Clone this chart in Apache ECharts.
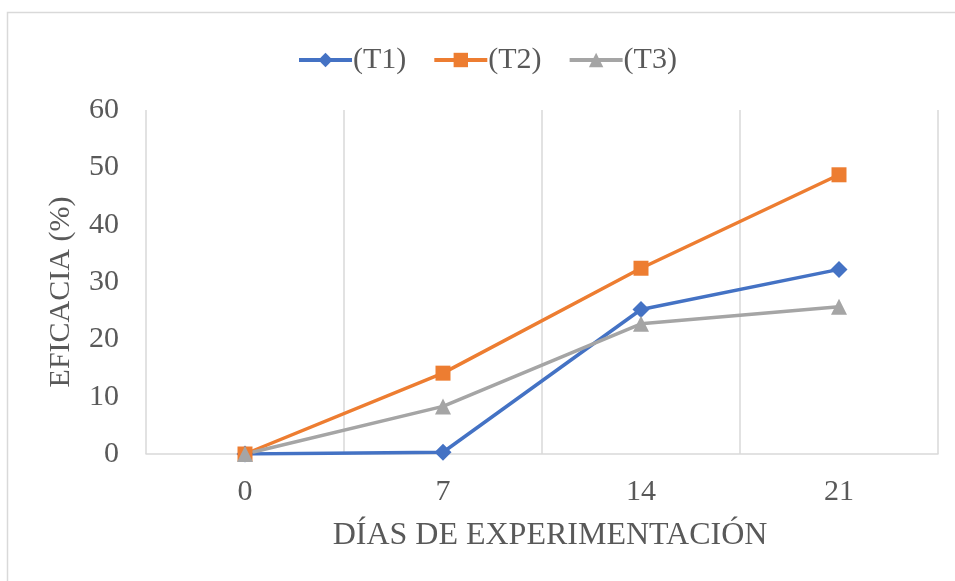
<!DOCTYPE html>
<html>
<head>
<meta charset="utf-8">
<script src="https://cdn.jsdelivr.net/npm/echarts@6/dist/echarts.min.js"></script>
<style>
  html, body { margin: 0; padding: 0; background: #fff; }
  #main { width: 955px; height: 581px; }
</style>
</head>
<body>
<div id="main"></div>
<script>
var days = ['0', '7', '14', '21'];
var t1 = [0, 0.3, 25.2, 32.2];
var t2 = [0, 14.1, 32.4, 48.7];
var t3 = [0, 8.3, 22.7, 25.7];

var myChart = echarts.init(document.getElementById('main'));

var fontFam = '"Liberation Serif", "Times New Roman", serif';
var txtColor = '#595959';

function mkSeries(name, data, color, symbol, size) {
    return {
        name: name,
        type: 'line',
        data: data,
        symbol: symbol,
        symbolSize: size,
        lineStyle: { color: color, width: 3.5 },
        itemStyle: { color: color },
        emphasis: { disabled: true }
    };
}

var option = {
    animation: false,
    textStyle: { fontFamily: fontFam },
    graphic: [{
        type: 'rect',
        shape: { x: 7.5, y: 12.5, width: 1000, height: 1000 },
        style: { fill: 'none', stroke: '#d9d9d9', lineWidth: 1.5 },
        silent: true
    }],
    legend: {
        top: 45,
        left: 297,
        padding: 0,
        itemWidth: 53,
        itemHeight: 18,
        itemGap: 26,
        lineStyle: { width: 4 },
        textStyle: { fontFamily: fontFam, fontSize: 30, color: txtColor, padding: [0, 0, 0, -4] },
        data: ['(T1)', '(T2)', '(T3)']
    },
    grid: {
        left: 146,
        top: 110,
        width: 792,
        height: 344
    },
    xAxis: {
        type: 'category',
        data: days,
        boundaryGap: true,
        name: 'DÍAS DE EXPERIMENTACIÓN',
        nameLocation: 'middle',
        nameGap: 66,
        nameTextStyle: { fontFamily: fontFam, fontSize: 32, color: txtColor, padding: [0, 0, 0, 16] },
        axisLine: { show: true, lineStyle: { color: '#d9d9d9', width: 1.5 } },
        axisTick: { show: false },
        axisLabel: { fontFamily: fontFam, fontSize: 30, color: txtColor, margin: 23 },
        splitLine: { show: true, lineStyle: { color: '#d9d9d9', width: 1.5 } }
    },
    yAxis: {
        type: 'value',
        min: 0,
        max: 60,
        interval: 10,
        name: 'EFICACIA (%)',
        nameLocation: 'middle',
        nameGap: 70,
        nameTextStyle: { fontFamily: fontFam, fontSize: 30, color: txtColor, padding: [0, 20, 0, 0] },
        axisLine: { show: false },
        axisTick: { show: false },
        axisLabel: { fontFamily: fontFam, fontSize: 30, color: txtColor, margin: 27 },
        splitLine: { show: false }
    },
    series: [
        mkSeries('(T1)', t1, '#4472C4', 'diamond', 17),
        mkSeries('(T2)', t2, '#ED7D31', 'rect', 15),
        mkSeries('(T3)', t3, '#A5A5A5', 'triangle', 16)
    ]
};

myChart.setOption(option);
</script>
</body>
</html>
